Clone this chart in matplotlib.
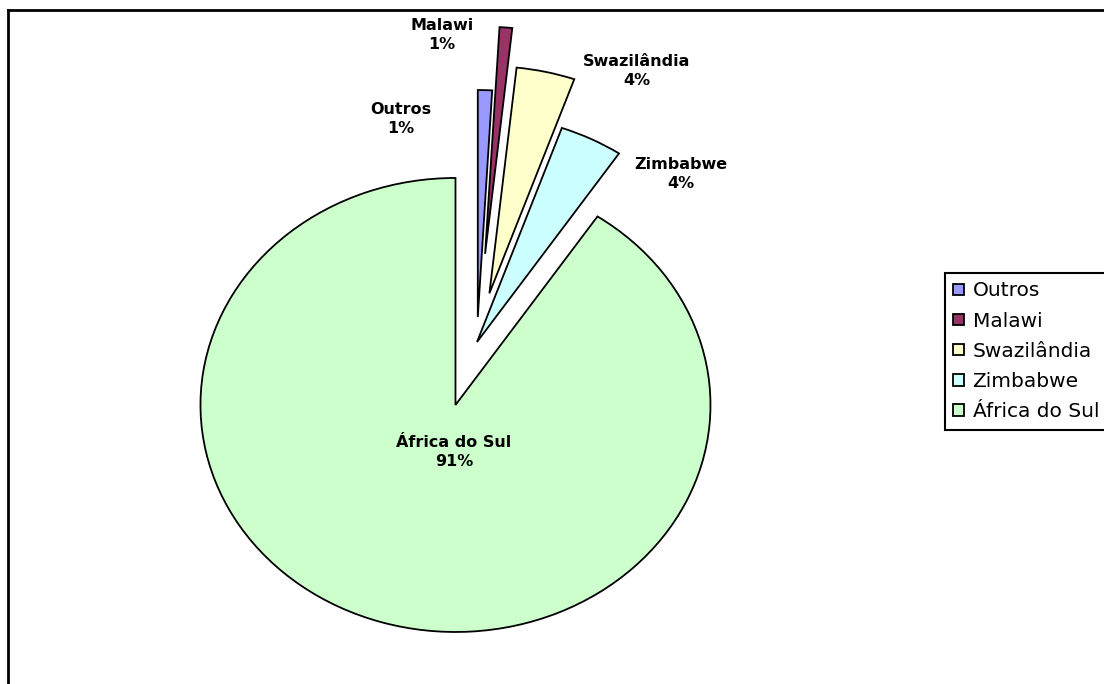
import matplotlib.pyplot as plt
from matplotlib.lines import Line2D

# dados (percentagens)
paises = ['Outros', 'Malawi', 'Swazilândia', 'Zimbabwe', 'África do Sul']
valores = [0.9, 0.8, 3.7, 4.0, 90.6]

cores = ['#9999FF', '#993366', '#FFFFCC', '#CCFFFF', '#CCFFCC']
explodir = [0.11, 0.39, 0.22, 0.0, 0.29]
# posicao dos rotulos (unidades do raio, relativas ao centro)
pos_rotulos = [(-0.298, 0.982), (-0.137, 1.352), (0.627, 1.194),
               (0.80, 0.740), (-0.090, -0.485)]

W, H = 1104, 684
cx, cy = 477, 342      # centro da pizza em px (a partir de baixo)
rx, ry = 255, 227      # raio horizontal / vertical em px

fig = plt.figure(figsize=(W / 100, H / 100), dpi=100)
ax = fig.add_axes([0, 0, 1, 1])

wedges, _ = ax.pie(valores, colors=cores, explode=explodir, startangle=90,
                   counterclock=False,
                   wedgeprops=dict(edgecolor='black', linewidth=1.3))
ax.set_aspect('auto')
ax.set_xlim(-cx / rx, (W - cx) / rx)
ax.set_ylim(-cy / ry, (H - cy) / ry)
ax.axis('off')

for nome, v, (x, y) in zip(paises, valores, pos_rotulos):
    ax.text(x, y, f'{nome}\n{v:.0f}%', ha='center', va='center',
            fontsize=11.5, fontweight='bold', family='DejaVu Sans',
            linespacing=1.35)

leg = fig.legend(wedges, paises, loc='upper left',
                 bbox_to_anchor=(945 / W, 1 - 273 / H),
                 fontsize=14.5, frameon=True, fancybox=False,
                 edgecolor='black', handlelength=0.5, handleheight=0.5,
                 handletextpad=0.45, labelspacing=0.555, borderpad=0.42,
                 borderaxespad=0)
leg.get_frame().set_linewidth(1.5)
leg.get_frame().set_alpha(None)
for h in leg.legend_handles:
    h.set_linewidth(1.3)

# moldura da area do grafico
fig.add_artist(Line2D([7.5 / W, 7.5 / W], [0, 1 - 9.5 / H], color='black', lw=2))
fig.add_artist(Line2D([7.5 / W, 1], [1 - 9.5 / H, 1 - 9.5 / H], color='black', lw=2))

fig.savefig('out.png', dpi=100)
